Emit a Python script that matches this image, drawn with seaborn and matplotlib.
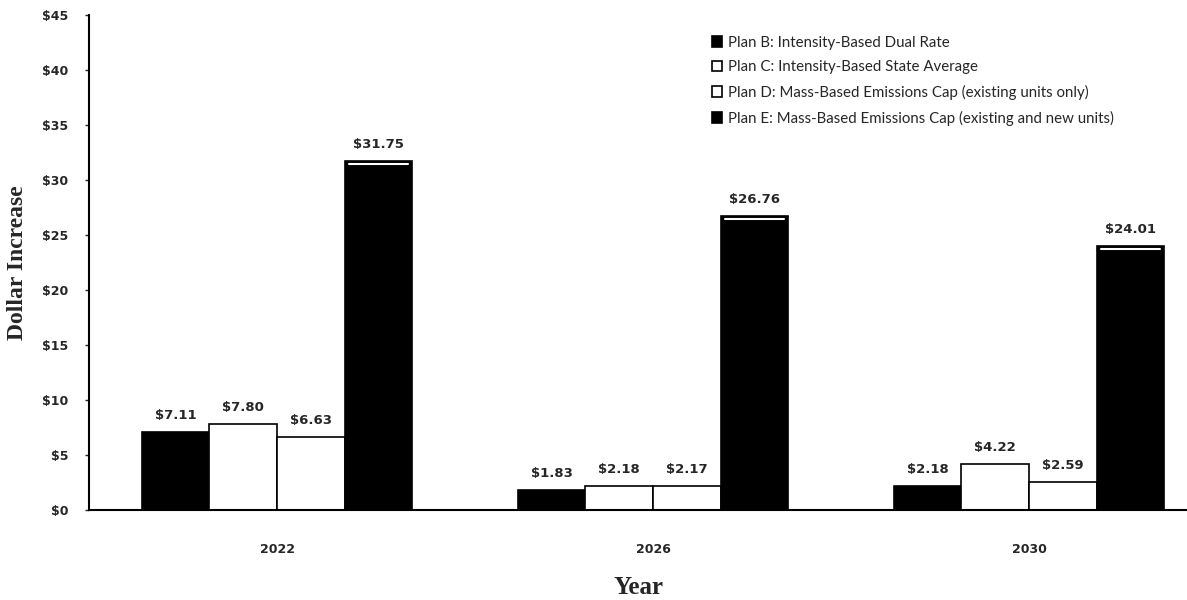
import pandas as pd
import matplotlib
matplotlib.use("Agg")
import matplotlib.pyplot as plt
import seaborn as sns

# data
years = ["2022", "2026", "2030"]
plans = [
    "Plan B: Intensity-Based Dual Rate",
    "Plan C: Intensity-Based State Average",
    "Plan D: Mass-Based Emissions Cap (existing units only)",
    "Plan E: Mass-Based Emissions Cap (existing and new units)",
]
plan_b = [7.11, 1.83, 2.18]
plan_c = [7.80, 2.18, 4.22]
plan_d = [6.63, 2.17, 2.59]
plan_e = [31.75, 26.76, 24.01]
y_ticks = [0, 5, 10, 15, 20, 25, 30, 35, 40, 45]

rows = []
for plan, vals in zip(plans, [plan_b, plan_c, plan_d, plan_e]):
    for yr, v in zip(years, vals):
        rows.append({"Year": yr, "Plan": plan, "Value": v})
df = pd.DataFrame(rows)

sns.set_style("white")
fig = plt.figure(figsize=(11.87, 6), dpi=100)
ax = fig.add_axes([0.075, 0.15, 0.925, 0.825])

palette = dict(zip(plans, ["black", "white", "white", "black"]))
sns.barplot(data=df, x="Year", y="Value", hue="Plan", order=years, hue_order=plans,
            palette=palette, width=0.72, edgecolor="black", linewidth=1.2,
            saturation=1, ax=ax)

# value labels above each bar
for cont in ax.containers:
    ax.bar_label(cont, labels=[f"${v:.2f}" for v in cont.datavalues], padding=7,
                 fontsize=9.5, fontweight="bold", family="DejaVu Sans")

# thin white strip near the top of the tall bars (3D look of the original)
for p in ax.containers[3].patches:
    x0 = p.get_x() + p.get_width() * 0.06
    x1 = p.get_x() + p.get_width() * 0.94
    ax.plot([x0, x1], [p.get_height() - 0.3] * 2, color="white", lw=1.5, zorder=5)

ax.set_ylim(0, 45)
ax.set_xlim(-0.5, 2.42)
ax.set_yticks(y_ticks)
ax.set_yticklabels([f"${t}" for t in y_ticks], fontsize=9, fontweight="bold")
ax.set_xticks(range(len(years)))
ax.set_xticklabels(years, fontsize=9, fontweight="bold")
ax.tick_params(axis="y", direction="out", length=3, width=1, left=True, pad=12)
ax.tick_params(axis="x", length=0, pad=24)

ax.set_ylabel("Dollar Increase", fontsize=17, fontweight="bold", family="Liberation Serif", labelpad=10)
ax.set_xlabel("Year", fontsize=18, fontweight="bold", family="Liberation Serif", labelpad=14)

for s in ["top", "right"]:
    ax.spines[s].set_visible(False)
ax.spines["left"].set_linewidth(1.5)
ax.spines["bottom"].set_linewidth(1.5)
ax.spines["left"].set_color("black")
ax.spines["bottom"].set_color("black")

leg = ax.legend(loc="upper left", bbox_to_anchor=(0.555, 0.985), frameon=False,
                handlelength=0.7, handleheight=0.7, handletextpad=0.4,
                labelspacing=0.7, prop={"family": "Lato", "size": 10.8})

plt.savefig("out.png", dpi=100)
